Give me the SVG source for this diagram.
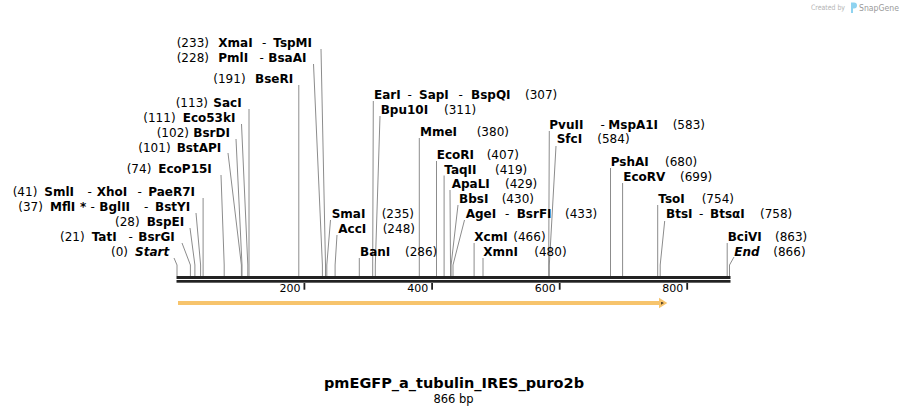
<svg xmlns="http://www.w3.org/2000/svg" width="908" height="415" viewBox="0 0 908 415">
<style>
text{font-family:"DejaVu Sans",Verdana,sans-serif;font-size:12px;fill:#000;white-space:pre}
.b{font-weight:bold}
.i{font-weight:bold;font-style:italic}
.c{fill:none;stroke:#8c8c8c;stroke-width:1}
.tick{font-size:11px}
</style>
<rect width="908" height="415" fill="#fff"/>
<g id="connectors">
<path class="c" d="M321,49 L325.5,265 V276"/>
<path class="c" d="M313.5,64 L322.4,265 V276"/>
<path class="c" d="M298.8,85 V276"/>
<path class="c" d="M249,109 V276"/>
<path class="c" d="M241.5,124 L247.8,265 V276"/>
<path class="c" d="M236,139 L242,265 V276"/>
<path class="c" d="M228,153 L241.4,265 V276"/>
<path class="c" d="M221,175 L224.2,265 V276"/>
<path class="c" d="M203.1,198 V276"/>
<path class="c" d="M196,213 L200.6,265 V276"/>
<path class="c" d="M190,228 L194.9,265 V276"/>
<path class="c" d="M182,243 L190.4,265 V276"/>
<path class="c" d="M174,258 L177,265 V276"/>
<path class="c" d="M330.5,220 L326.8,265 V276"/>
<path class="c" d="M337,235 L335.1,265 V276"/>
<path class="c" d="M359.3,258 V276"/>
<path class="c" d="M373.3,101 L372.7,265 V276"/>
<path class="c" d="M380,116 L375.3,265 V276"/>
<path class="c" d="M419.3,138 V276"/>
<path class="c" d="M436.5,161 V276"/>
<path class="c" d="M444.1,175.5 V276"/>
<path class="c" d="M450,190 L450.5,265 V276"/>
<path class="c" d="M458,205 L451.1,265 V276"/>
<path class="c" d="M464.5,220 L453,265 V276"/>
<path class="c" d="M474.1,243 V276"/>
<path class="c" d="M483,258 V276"/>
<path class="c" d="M549.3,131 L548.7,265 V276"/>
<path class="c" d="M556,146 L549.3,265 V276"/>
<path class="c" d="M610.5,168 V276"/>
<path class="c" d="M622.6,183 V276"/>
<path class="c" d="M657.7,205 V276"/>
<path class="c" d="M664.7,221 L660.2,265 V276"/>
<path class="c" d="M727.2,243 V276"/>
<path class="c" d="M734,257 L729.5,265 V276"/>
</g>
<g id="backbone">
<rect x="176.5" y="276" width="554" height="3" fill="#222"/>
<rect x="176.5" y="280" width="554" height="2.7" fill="#222"/>
<rect x="303.5" y="283" width="1.8" height="6.7" fill="#222"/>
<rect x="431.2" y="283" width="1.8" height="6.7" fill="#222"/>
<rect x="558.8" y="283" width="1.8" height="6.7" fill="#222"/>
<rect x="686.3" y="283" width="1.8" height="6.7" fill="#222"/>
<text class="tick" x="300.5" y="292.3" text-anchor="end">200</text>
<text class="tick" x="428.2" y="292.3" text-anchor="end">400</text>
<text class="tick" x="555.8" y="292.3" text-anchor="end">600</text>
<text class="tick" x="683.3" y="292.3" text-anchor="end">800</text>
</g>
<g id="feature">
<path d="M179,302 H660 V299.5 L665.5,303 L660,306.5 V304 H179 Z" fill="#5a4526" stroke="#f7c46c" stroke-width="2" stroke-linejoin="miter"/>
</g>
<g id="XmaI"><text y="47"><tspan x="176.7">(233)</tspan><tspan class="b" x="218.3">XmaI</tspan><tspan x="262">-</tspan><tspan class="b" x="273.3">TspMI</tspan></text></g>
<g id="PmlI"><text y="62"><tspan x="176.7">(228)</tspan><tspan class="b" x="218.3">PmlI</tspan><tspan x="259.5">-</tspan><tspan class="b" x="268.3">BsaAI</tspan></text></g>
<g id="BseRI"><text y="83"><tspan x="213.3">(191)</tspan><tspan class="b" x="255">BseRI</tspan></text></g>
<g id="SacI"><text y="107"><tspan x="175.7">(113)</tspan><tspan class="b" x="213.3">SacI</tspan></text></g>
<g id="Eco53kI"><text y="122"><tspan x="143.3">(111)</tspan><tspan class="b" x="182.7">Eco53kI</tspan></text></g>
<g id="BsrDI"><text y="137"><tspan x="156.7">(102)</tspan><tspan class="b" x="193.3">BsrDI</tspan></text></g>
<g id="BstAPI"><text y="152"><tspan x="138.3">(101)</tspan><tspan class="b" x="176.7">BstAPI</tspan></text></g>
<g id="EcoP15I"><text y="173"><tspan x="126.7">(74)</tspan><tspan class="b" x="158.3">EcoP15I</tspan></text></g>
<g id="SmlI"><text y="196"><tspan x="12.7">(41)</tspan><tspan class="b" x="44.3">SmlI</tspan><tspan x="87.5">-</tspan><tspan class="b" x="96.7">XhoI</tspan><tspan x="137.5">-</tspan><tspan class="b" x="148.3">PaeR7I</tspan></text></g>
<g id="MflI"><text y="211"><tspan x="18.3">(37)</tspan><tspan class="b" x="50">MflI</tspan><tspan class="b" x="80">*</tspan><tspan x="90.5">-</tspan><tspan class="b" x="99.3">BglII</tspan><tspan x="144">-</tspan><tspan class="b" x="155">BstYI</tspan></text></g>
<g id="BspEI"><text y="226"><tspan x="115">(28)</tspan><tspan class="b" x="146.7">BspEI</tspan></text></g>
<g id="TatI"><text y="241"><tspan x="60">(21)</tspan><tspan class="b" x="91.7">TatI</tspan><tspan x="128.5">-</tspan><tspan class="b" x="138.3">BsrGI</tspan></text></g>
<g id="Start"><text y="256"><tspan x="111">(0)</tspan><tspan class="i" x="135">Start</tspan></text></g>
<g id="SmaI"><text y="218"><tspan class="b" x="331.7">SmaI</tspan><tspan x="381.7">(235)</tspan></text></g>
<g id="AccI"><text y="233"><tspan class="b" x="338.3">AccI</tspan><tspan x="382.7">(248)</tspan></text></g>
<g id="BanI"><text y="256"><tspan class="b" x="360">BanI</tspan><tspan x="405">(286)</tspan></text></g>
<g id="EarI"><text y="98.5"><tspan class="b" x="374">EarI</tspan><tspan x="407.5">-</tspan><tspan class="b" x="419">SapI</tspan><tspan x="458.5">-</tspan><tspan class="b" x="471">BspQI</tspan><tspan x="525">(307)</tspan></text></g>
<g id="Bpu10I"><text y="113.5"><tspan class="b" x="380.7">Bpu10I</tspan><tspan x="444">(311)</tspan></text></g>
<g id="MmeI"><text y="136"><tspan class="b" x="420">MmeI</tspan><tspan x="476.7">(380)</tspan></text></g>
<g id="EcoRI"><text y="159"><tspan class="b" x="436.7">EcoRI</tspan><tspan x="486.7">(407)</tspan></text></g>
<g id="TaqII"><text y="173.5"><tspan class="b" x="444.3">TaqII</tspan><tspan x="495">(419)</tspan></text></g>
<g id="ApaLI"><text y="188"><tspan class="b" x="451.7">ApaLI</tspan><tspan x="505">(429)</tspan></text></g>
<g id="BbsI"><text y="203"><tspan class="b" x="459">BbsI</tspan><tspan x="501.7">(430)</tspan></text></g>
<g id="AgeI"><text y="218"><tspan class="b" x="465.7">AgeI</tspan><tspan x="505">-</tspan><tspan class="b" x="516.7">BsrFI</tspan><tspan x="565">(433)</tspan></text></g>
<g id="XcmI"><text y="241"><tspan class="b" x="474.3">XcmI</tspan><tspan x="513.3">(466)</tspan></text></g>
<g id="XmnI"><text y="256"><tspan class="b" x="483.3">XmnI</tspan><tspan x="534.3">(480)</tspan></text></g>
<g id="PvuII"><text y="128.5"><tspan class="b" x="549.3">PvuII</tspan><tspan x="600.5">-</tspan><tspan class="b" x="608.3">MspA1I</tspan><tspan x="672.7">(583)</tspan></text></g>
<g id="SfcI"><text y="143"><tspan class="b" x="556.7">SfcI</tspan><tspan x="597.3">(584)</tspan></text></g>
<g id="PshAI"><text y="166"><tspan class="b" x="610.7">PshAI</tspan><tspan x="665">(680)</tspan></text></g>
<g id="EcoRV"><text y="181"><tspan class="b" x="623.3">EcoRV</tspan><tspan x="680">(699)</tspan></text></g>
<g id="TsoI"><text y="202.5"><tspan class="b" x="658.3">TsoI</tspan><tspan x="701.7">(754)</tspan></text></g>
<g id="BtsI"><text y="217.5"><tspan class="b" x="666">BtsI</tspan><tspan x="699">-</tspan><tspan class="b" x="710">BtsαI</tspan><tspan x="760">(758)</tspan></text></g>
<g id="BciVI"><text y="241"><tspan class="b" x="727.7">BciVI</tspan><tspan x="775">(863)</tspan></text></g>
<g id="End"><text y="255.5"><tspan class="i" x="734.3">End</tspan><tspan x="773.3">(866)</tspan></text></g>
<g id="title">
<text x="454" y="388" text-anchor="middle" class="b" style="font-size:14.5px">pmEGFP_a_tubulin_IRES_puro2b</text>
<text x="453.5" y="403" text-anchor="middle" style="font-size:11.5px">866 bp</text>
</g>
<g id="logo">
<text x="811" y="10" textLength="34" lengthAdjust="spacingAndGlyphs" style="font-size:7.5px;fill:#b4b4b4">Created by</text>
<path d="M851,2.5 h3 a3,3 0 0 1 0,6 h-1 v4.5 h-2 z" fill="#8fd3f0"/>
<text x="859" y="10.5" textLength="40" lengthAdjust="spacingAndGlyphs" style="font-size:9.5px;fill:#9a9a9a">SnapGene</text>
</g>
</svg>
